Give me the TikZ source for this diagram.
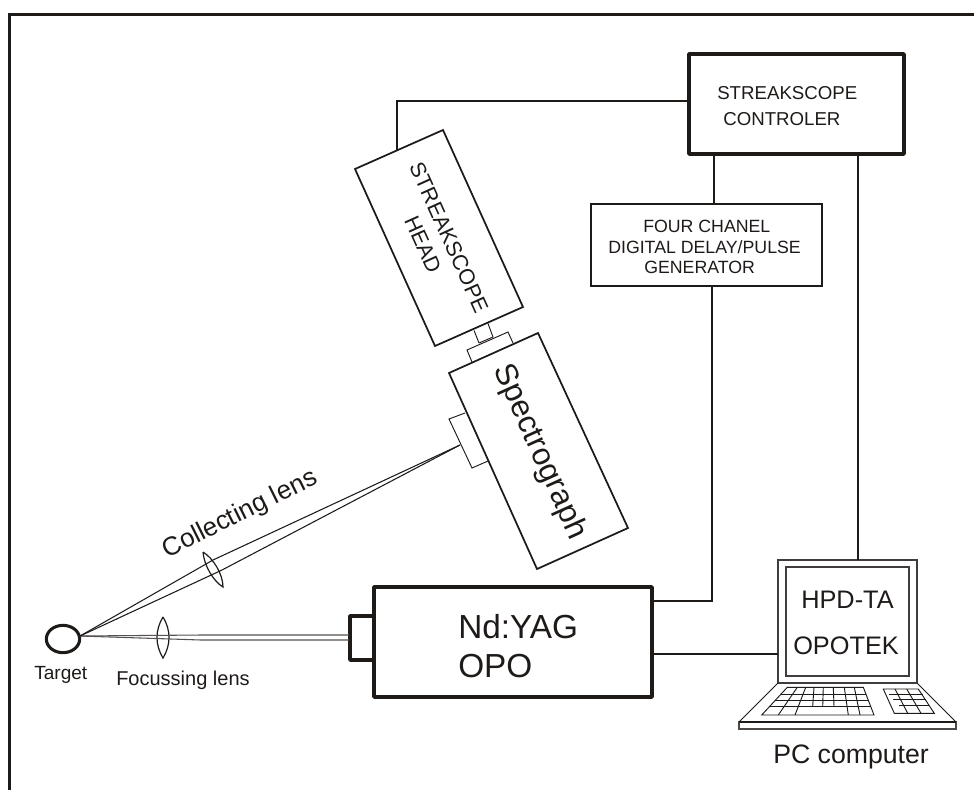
\documentclass[tikz,border=0pt]{standalone}
\usepackage{fontspec}
\usetikzlibrary{shapes.geometric}
\setmainfont{Liberation Sans}
\definecolor{ink}{HTML}{1E1A18}
\newcommand{\fs}[1]{\fontsize{#1}{#1}\selectfont}
\tikzset{
  x=0.75pt,y=-0.75pt,
  wire/.style={draw=ink,line width=1.5pt,line join=miter},
  mid line/.style={draw=ink,line width=1.3pt,line join=miter},
  thin box/.style={draw=ink,line width=1.1pt,line join=miter},
  thick box/.style={draw=ink,line width=2.6pt,line join=round},
  fine/.style={draw=ink,line width=0.7pt,line join=miter},
  ray/.style={draw=ink,line width=0.8pt},
  label/.style={inner sep=0pt,anchor=base west,text=ink},
  rlabel/.style={inner sep=0pt,anchor=center,text=ink},
}
\begin{document}
\begin{tikzpicture}
\useasboundingbox (0,0) rectangle (974,790);
% outer frame
\coordinate (fa) at (9.5,790);
\coordinate (fb) at (9.5,14.5);
\coordinate (fc) at (974,14.5);
\draw[draw=ink,line width=2.4pt,line join=miter] (fa) -- (fb) -- (fc);

% controller
\draw[thick box] (689,54) rectangle (904,154);
\coordinate (ctlW) at (689,101);
\coordinate (ctlS1) at (714,154);
\coordinate (ctlS2) at (858,154);
\node[label] (t1) at (717,99) {\fs{14pt}STREAKSCOPE};
\node[label] (t2) at (723,125) {\fs{14pt}CONTROLER};

% delay box
\draw[thin box] (591,204) rectangle (822,286);
\coordinate (dlyN) at (714,204);
\coordinate (dlyS) at (712,286);
\node[label] (t3) at (643,232) {\fs{13.3pt}FOUR CHANEL};
\node[label] (t4) at (608,253) {\fs{13.3pt}DIGITAL DELAY/PULSE};
\node[label] (t5) at (644,273) {\fs{13.3pt}GENERATOR};

% streak head
\draw[mid line] (355,169) -- (443,130) -- (523,307) -- (435,346) -- cycle;
\coordinate (headN) at (397,150.5);
\node[rlabel,rotate=-65.7] (t6) at (449,237.5) {\fs{16.2pt}STREAKSCOPE};
\node[rlabel,rotate=-65.7] (t7) at (423,244.5) {\fs{16.2pt}HEAD};

% coupling
\draw[fine] (479,343) -- (474,330.5);
\draw[fine] (493,337) -- (488,323.5);
\draw[fine] (472,362) -- (467,350) -- (508,332) -- (513,343);
\draw[fine] (479,343) -- (493,337);

% spectrograph
\draw[mid line] (449,373) -- (538,333) -- (628,528) -- (537,569) -- cycle;
\node[rlabel,rotate=-65.7] (t8) at (539.5,452) {\fs{23.5pt}Spectrograph};
% entrance box
\draw[fine] (465,413) -- (449,419) -- (472,468) -- (488,461);
\coordinate (slit) at (460,445);

% Nd:YAG
\draw[thick box] (374,587) rectangle (652,697);
\draw[thick box] (374,616) -- (350,616) -- (350,660) -- (374,660);
\coordinate (yagE1) at (652,601);
\coordinate (yagE2) at (652,654);
\coordinate (portU) at (349,635);
\coordinate (portL) at (349,640);
\node[label] (t9) at (458,638) {\fs{25pt}Nd:YAG};
\node[label] (t10) at (458,677) {\fs{25pt}OPO};

% target
\node[draw=ink,line width=2.3pt,ellipse,minimum width=25pt,minimum height=20.5pt,inner sep=0pt] (tgt) at (63,639) {};
\coordinate (fo) at (80,636);
\node[label] (t11) at (34,679) {\fs{14.3pt}Target};
\node[label] (t12) at (116,685) {\fs{15pt}Focussing lens};

% focussing lens and beam
\draw[ink,line width=0.9pt] (163,617) .. controls (155,630) and (155,645) .. (163,658) .. controls (171,645) and (171,630) .. (163,617);
\draw[ray,draw=ink!75] (fo) -- (201,635) -- (portU);
\draw[ray,draw=ink!75] (fo) -- (201,640) -- (portL);

% collecting lens and rays
\draw[ink,line width=0.9pt] (203,552) .. controls (204,565) and (213,581) .. (223,587) .. controls (223,574) and (213,558) .. (203,552);
\coordinate (cu) at (213,560);
\coordinate (cl) at (222,570);
\draw[ray] (fo) -- (cu) -- (slit);
\draw[ray] (fo) -- (cl) -- (slit);
\node[rlabel,rotate=26.4] (t13) at (240,514.5) {\fs{19.5pt}Collecting lens};

% laptop
\draw[thin box,draw=ink!85] (778,560) rectangle (917,683);
\draw[thin box,draw=ink!85] (786,567) rectangle (909,676);
\coordinate (lapN) at (858,560);
\coordinate (lapW) at (778,654);
\node[label] (t14) at (801,608) {\fs{19pt}HPD-TA};
\node[label] (t15) at (793,654) {\fs{19pt}OPOTEK};
\draw[fine] (778,683) -- (739,722) (917,683) -- (956,722);
\draw[fine,line width=0.9pt,draw=ink!80] (739,722) rectangle (956,729);
\draw[draw=ink,line width=0.9pt] (739,722) -- (956,722);
% keyboard
\draw[fine] (787.3,687.3) -- (863.3,687.3) -- (874,715) -- (761.7,715) -- cycle;
\draw[fine] (781,694) -- (866,694) (775,700) -- (868,700) (769,706) -- (870.5,706);
\draw[fine] (797.3,687.3) -- (778.3,715);
\draw[fine] (805.7,687.3) -- (795,715);
\draw[fine] (814,687.3) -- (812.7,706);
\draw[fine] (823.3,687.3) -- (822.7,706);
\draw[fine] (833.3,687.3) -- (834,706);
\draw[fine] (844.3,687.3) -- (848.3,715);
\draw[fine] (854.3,687.3) -- (860,715);
% numeric pad
\draw[fine] (883.3,689) -- (918.3,689) -- (934.3,713.3) -- (894.3,713.3) -- cycle;
\draw[fine] (895,689) -- (907.7,713.3);
\draw[fine] (906.7,689) -- (921,713.3);
\draw[fine] (888.5,694.3) -- (923,694.3) (893,699.3) -- (926,699.3) (899,705) -- (929,705);
\node[label] (t16) at (773,763) {\fs{20pt}PC computer};

% connectors
\draw[wire] (ctlW) -- (headN |- ctlW) -- (headN);
\draw[wire] (ctlS1) -- (dlyN);
\draw[wire] (ctlS2) -- (lapN);
\draw[wire] (dlyS) -- (dlyS |- yagE1) -- (yagE1);
\draw[wire] (yagE2) -- (lapW);
\end{tikzpicture}
\end{document}
